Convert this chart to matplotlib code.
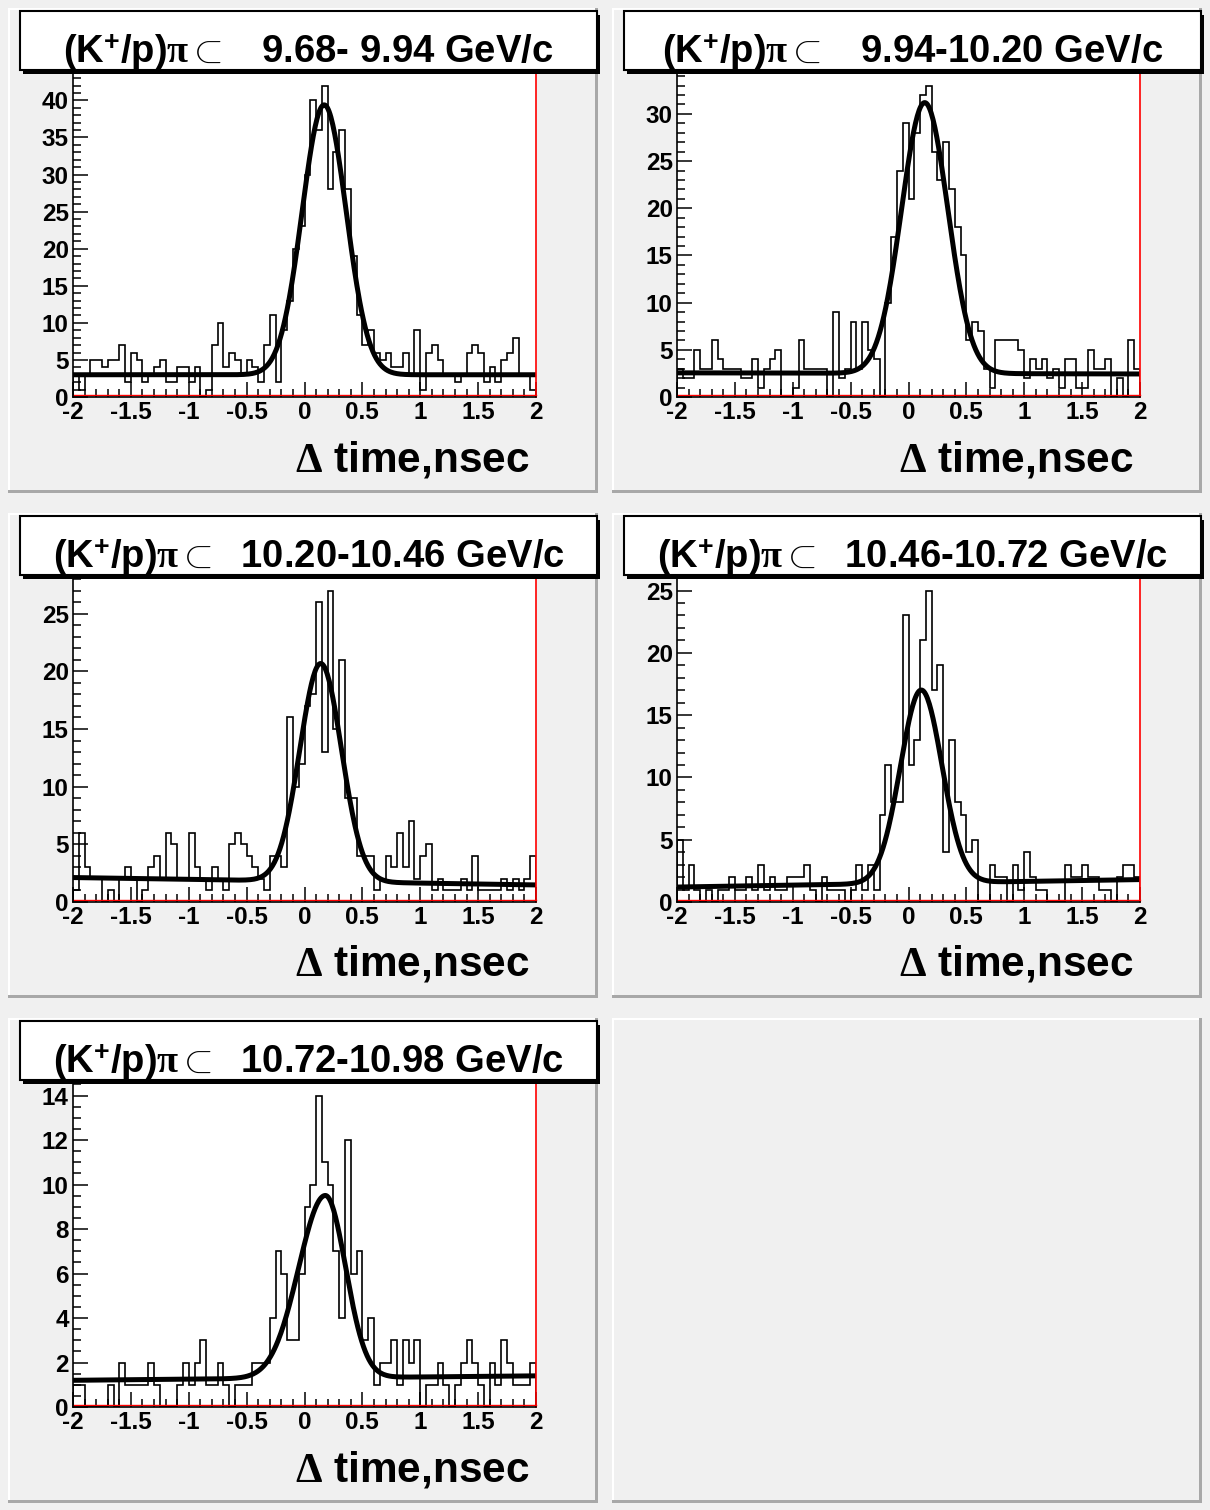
import numpy as np
import matplotlib
matplotlib.use("Agg")
import matplotlib.pyplot as plt
from matplotlib.patches import Rectangle
from matplotlib.transforms import offset_copy
from matplotlib.ticker import MultipleLocator

plt.rcParams['font.family'] = ['Liberation Sans', 'DejaVu Sans']
plt.rcParams['font.weight'] = 'bold'
plt.rcParams['axes.unicode_minus'] = False
plt.rcParams['mathtext.fontset'] = 'custom'
plt.rcParams['mathtext.rm'] = 'Liberation Serif'
plt.rcParams['mathtext.it'] = 'Liberation Serif:italic'
plt.rcParams['mathtext.bf'] = 'Liberation Sans:bold'

# ---- data (80 bins, -2..2 nsec) ----
titles = [r"(K$^{\mathbf{+}}$/p)$\mathrm{\pi}\subset$   9.68- 9.94 GeV/c",
          r"(K$^{\mathbf{+}}$/p)$\mathrm{\pi}\subset$   9.94-10.20 GeV/c",
          r"(K$^{\mathbf{+}}$/p)$\mathrm{\pi}\subset$  10.20-10.46 GeV/c",
          r"(K$^{\mathbf{+}}$/p)$\mathrm{\pi}\subset$  10.46-10.72 GeV/c",
          r"(K$^{\mathbf{+}}$/p)$\mathrm{\pi}\subset$  10.72-10.98 GeV/c"]

h1 = [3, 1, 3, 5, 5, 4, 5, 5, 7, 2, 6, 5, 2, 3, 4, 5, 2, 2, 4, 4,
      2, 4, 0, 1, 7, 10, 4, 6, 5, 3, 5, 4, 2, 7, 11, 2, 9, 13, 20, 23,
      30, 40, 36, 42, 28, 33, 36, 28, 19, 11, 7, 9, 6, 5, 6, 4, 4, 6, 3, 9,
      1, 6, 7, 5, 3, 3, 2, 3, 6, 7, 6, 2, 4, 2, 5, 6, 8, 3, 3, 1]
h2 = [3, 2, 2, 5, 3, 3, 6, 4, 3, 3, 3, 2, 2, 4, 1, 3, 4, 5, 0, 0,
      1, 6, 3, 3, 3, 3, 0, 9, 2, 3, 8, 3, 8, 5, 4, 0, 10, 17, 24, 29,
      21, 28, 32, 33, 26, 23, 27, 22, 18, 15, 6, 8, 7, 3, 1, 6, 6, 6, 6, 5,
      2, 4, 3, 4, 2, 3, 1, 4, 4, 1, 1, 5, 3, 3, 4, 0, 2, 0, 6, 3]
h3 = [1, 6, 3, 2, 2, 0, 1, 0, 2, 3, 2, 0, 1, 3, 4, 2, 6, 5, 2, 2,
      6, 3, 2, 1, 3, 2, 1, 5, 6, 5, 4, 3, 2, 1, 4, 4, 3, 16, 10, 12,
      17, 18, 26, 13, 27, 15, 21, 9, 9, 4, 4, 4, 1, 2, 4, 3, 6, 3, 7, 2,
      4, 5, 1, 2, 1, 1, 1, 2, 1, 4, 1, 1, 1, 1, 2, 1, 2, 1, 2, 4]
h4 = [5, 1, 3, 1, 0, 1, 0, 1, 1, 2, 1, 1, 2, 1, 3, 1, 2, 1, 1, 2,
      2, 2, 3, 1, 0, 2, 1, 1, 1, 0, 1, 3, 1, 3, 1, 7, 11, 8, 8, 23,
      11, 13, 21, 25, 17, 19, 4, 13, 8, 7, 4, 5, 0, 0, 3, 2, 2, 0, 3, 1,
      4, 2, 1, 1, 0, 0, 0, 3, 2, 2, 3, 2, 2, 1, 1, 0, 2, 3, 3, 2]
h5 = [1, 1, 0, 0, 0, 0, 1, 0, 2, 1, 1, 1, 1, 2, 1, 0, 0, 0, 1, 2,
      1, 2, 3, 1, 1, 2, 1, 0, 1, 1, 1, 2, 2, 2, 4, 7, 6, 3, 3, 6,
      9, 10, 14, 11, 10, 7, 4, 12, 6, 7, 3, 4, 1, 2, 2, 3, 1, 3, 2, 3,
      0, 1, 1, 2, 1, 0, 1, 2, 3, 2, 1, 0, 2, 1, 3, 2, 1, 1, 1, 2]
hists = [h1, h2, h3, h4, h5]

# fit: amplitude, mean, sigma left, sigma right, bg const, bg slope
fit_amp = [36.4, 28.7, 18.9, 15.5, 8.2]
fit_mean = [0.17, 0.14, 0.14, 0.11, 0.18]
fit_sl = [0.19, 0.20, 0.18, 0.18, 0.23]
fit_sr = [0.19, 0.20, 0.18, 0.18, 0.175]
fit_b0 = [3.0, 2.5, 1.8, 1.5, 1.3]
fit_b1 = [0.0, -0.03, -0.16, 0.15, 0.05]

y_major = [5, 5, 5, 5, 2]
y_minor = [1, 1, 1, 1, 0.5]

W, H = 1210, 1510
fig = plt.figure(figsize=(W / 100, H / 100), dpi=100)
fig.patch.set_facecolor('#f0f0f0')


def rect(x, y, w, h, **kw):
    # pixel box, origin top-left
    r = Rectangle((x / W, 1 - (y + h) / H), w / W, h / H,
                  transform=fig.transFigure, **kw)
    fig.add_artist(r)
    return r


pad_x = [8, 612]
pad_y = [8, 513, 1018]
pad_w, pad_h = 590, 485

# pads with bevel borders
for row in range(3):
    for col in range(2):
        x0, y0 = pad_x[col], pad_y[row]
        rect(x0, y0, pad_w, pad_h, facecolor='#f0f0f0', edgecolor='none', zorder=-3)
        rect(x0, y0, pad_w, 2, facecolor='white', edgecolor='none', zorder=-2)
        rect(x0, y0, 2, pad_h, facecolor='white', edgecolor='none', zorder=-2)
        rect(x0 + pad_w - 3, y0, 3, pad_h, facecolor='#a8a8a8', edgecolor='none', zorder=-2)
        rect(x0, y0 + pad_h - 3, pad_w, 3, facecolor='#a8a8a8', edgecolor='none', zorder=-2)

edges = np.linspace(-2, 2, len(h1) + 1)
xf = np.linspace(-2, 2, 500)

for k in range(5):
    col, row = k % 2, k // 2
    x0, y0 = pad_x[col], pad_y[row]
    fl, ft, fw, fh = x0 + 65, y0 + 62, 463, 327
    ax = fig.add_axes([fl / W, 1 - (ft + fh) / H, fw / W, fh / H])
    ax.set_facecolor('white')

    vals = np.array(hists[k], dtype=float)
    ax.stairs(vals, edges, color='black', lw=1.2)

    s = np.where(xf < fit_mean[k], fit_sl[k], fit_sr[k])
    yf = fit_b0[k] + fit_b1[k] * xf + fit_amp[k] * np.exp(-0.5 * ((xf - fit_mean[k]) / s) ** 2)
    ax.plot(xf, yf, color='black', lw=3.6, solid_capstyle='butt')

    ax.set_xlim(-2, 2)
    ax.set_ylim(0, vals.max() * 1.05)
    ax.xaxis.set_major_locator(MultipleLocator(0.5))
    ax.xaxis.set_minor_locator(MultipleLocator(0.1))
    ax.yaxis.set_major_locator(MultipleLocator(y_major[k]))
    ax.yaxis.set_minor_locator(MultipleLocator(y_minor[k]))
    ax.xaxis.set_major_formatter(plt.FuncFormatter(lambda v, p: ('%g' % v)))
    ax.tick_params(which='major', direction='in', length=11, width=1.1,
                   labelsize=17.5, pad=3, top=False, right=False)
    ax.tick_params(which='minor', direction='in', length=6, width=1.1,
                   top=False, right=False)
    for lab in ax.get_xticklabels() + ax.get_yticklabels():
        lab.set_fontweight('bold')

    ax.spines['top'].set_visible(False)
    ax.spines['right'].set_color('red')
    ax.spines['right'].set_linewidth(1.2)
    ax.spines['left'].set_linewidth(1.2)
    ax.spines['bottom'].set_linewidth(1.2)
    tr = offset_copy(ax.transAxes, fig=fig, y=2, units='dots')
    ax.plot([0, 1], [0, 0], transform=tr, color='red', lw=1.0, clip_on=False)

    # x axis title
    fig.text((x0 + 522) / W, 1 - (y0 + 463) / H, r"$\Delta$ time,nsec",
             fontsize=30.5, fontweight='bold', ha='right', va='baseline')

    # title box with shadow
    bx, by, bw, bh = x0 + 12, y0 + 3, 577, 59
    rect(bx + 3, by + 4, bw, bh, facecolor='black', edgecolor='none', zorder=2)
    rect(bx, by, bw, bh, facecolor='white', edgecolor='black', lw=1.5, zorder=3)
    fig.text((bx + bw / 2) / W, 1 - (y0 + 55) / H, titles[k],
             fontsize=27.5, fontweight='bold', ha='center', va='baseline', zorder=4)

fig.savefig('out.png', dpi=100, facecolor=fig.get_facecolor())
